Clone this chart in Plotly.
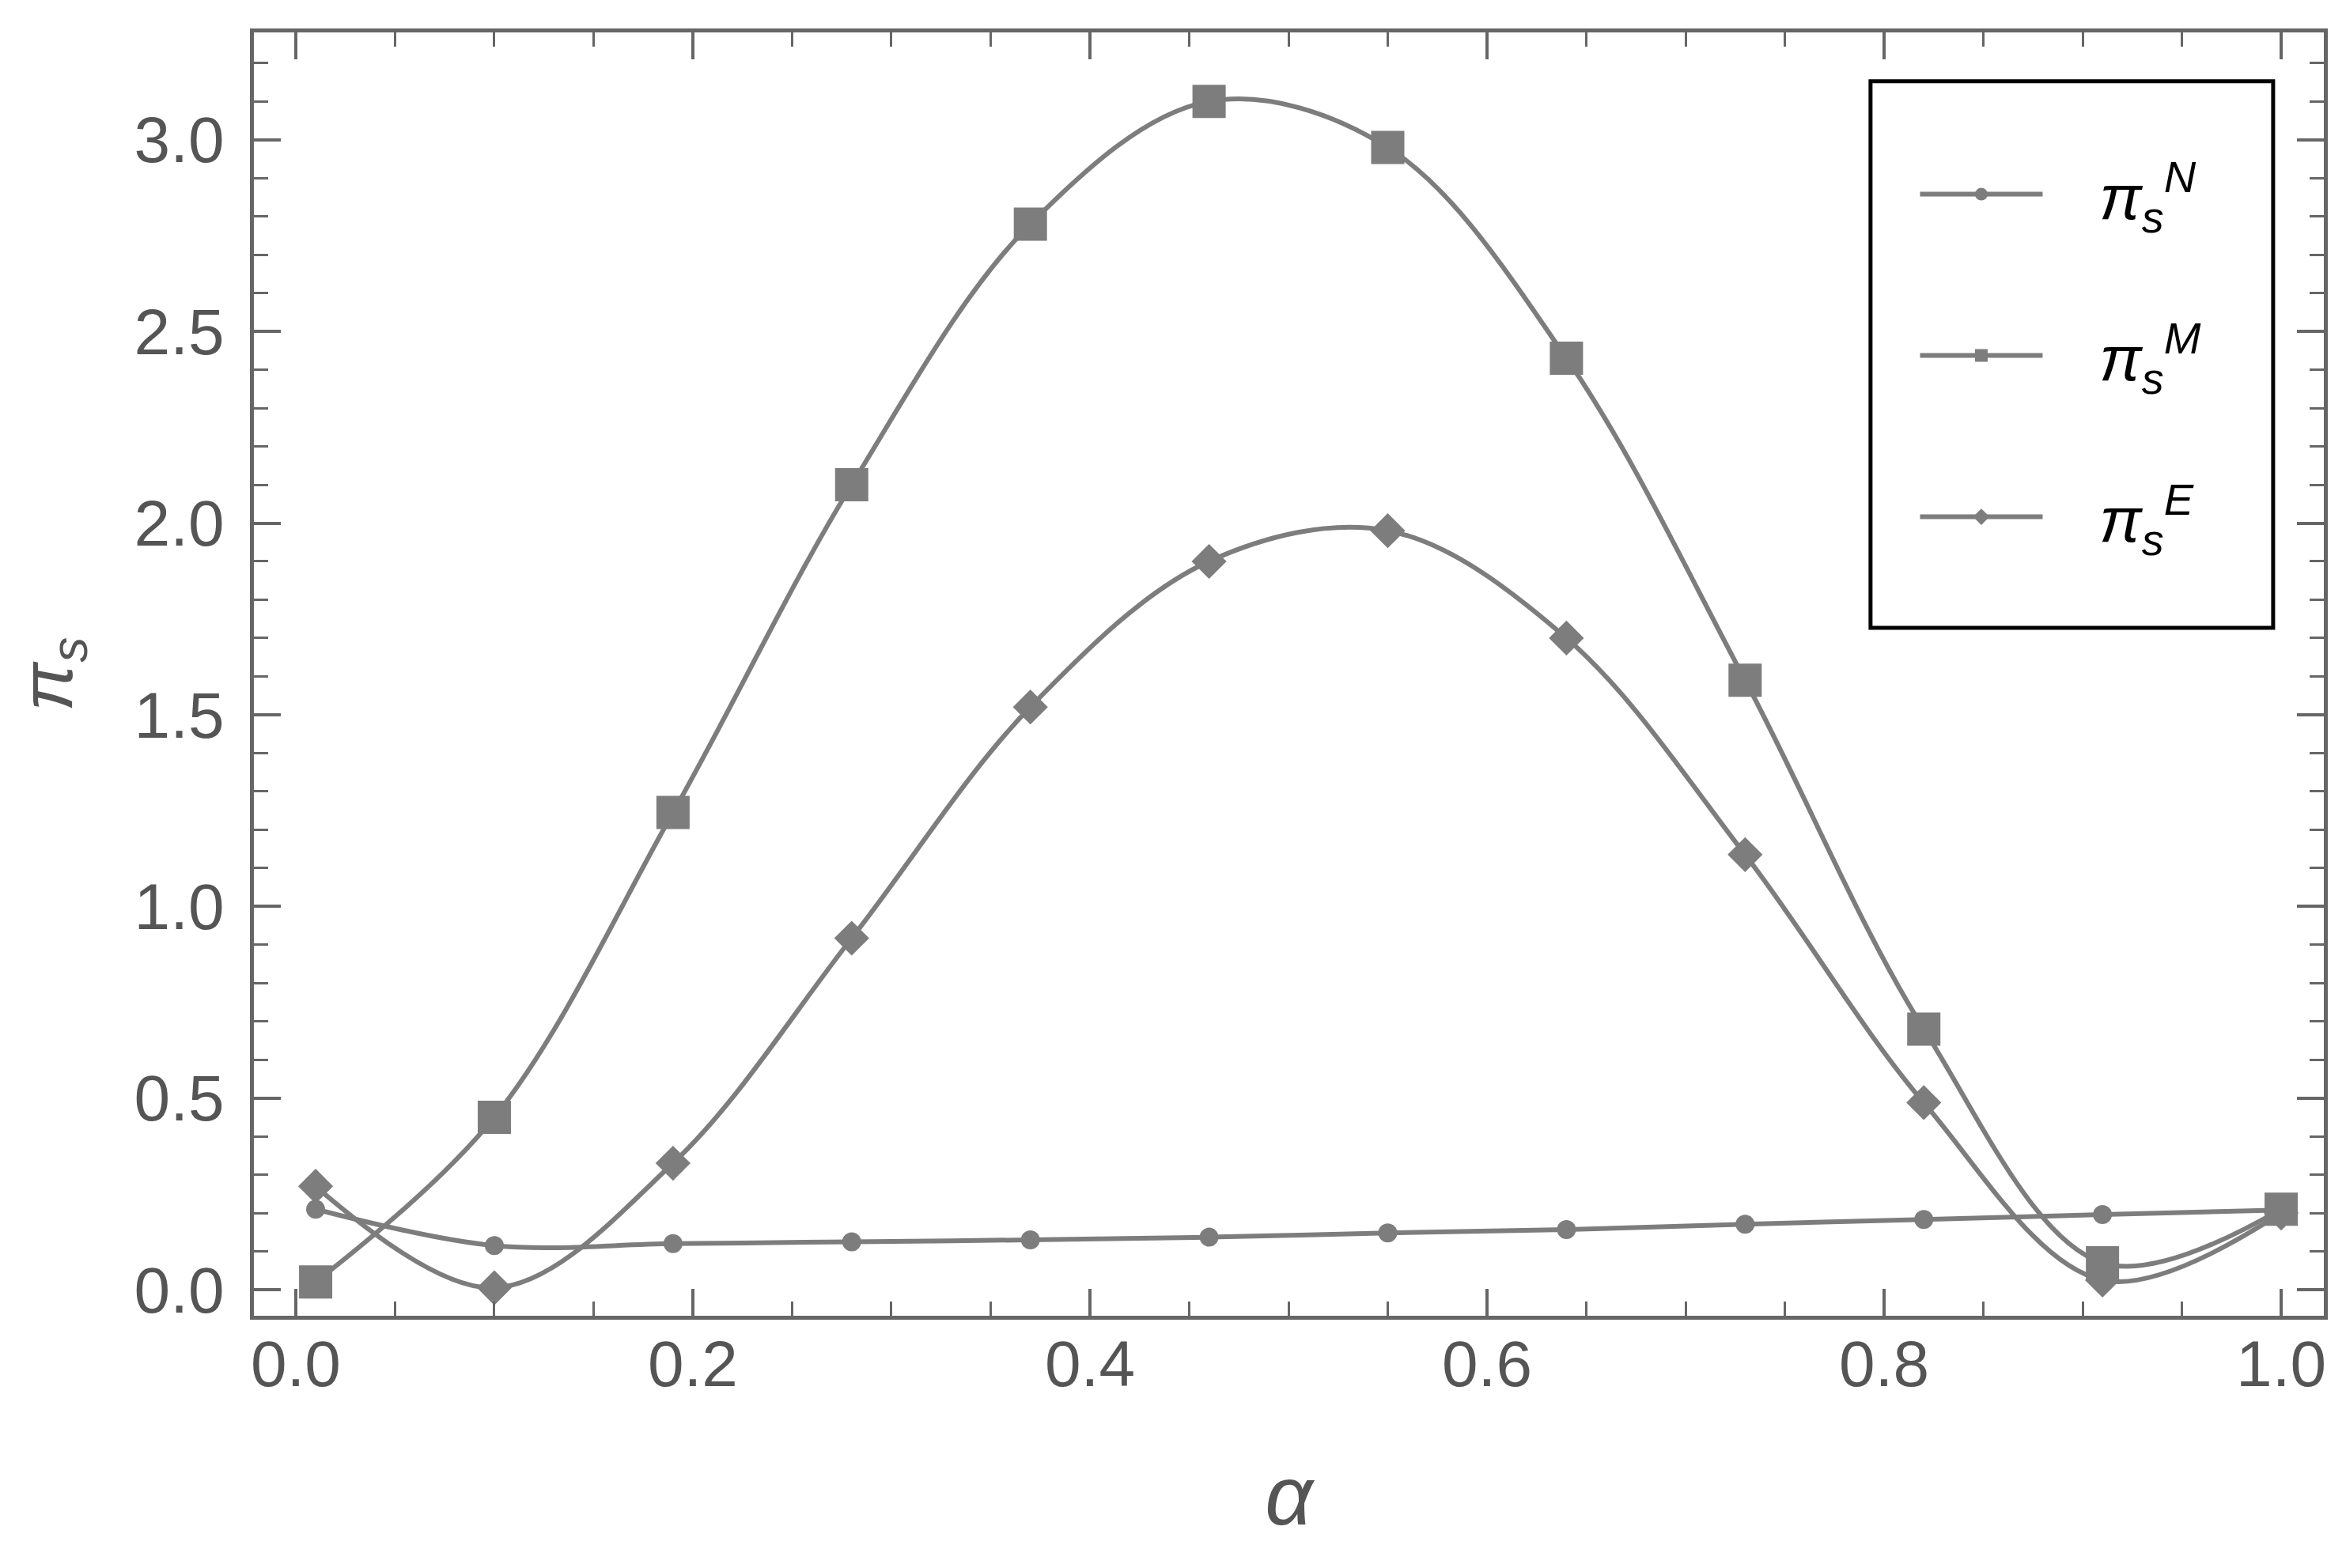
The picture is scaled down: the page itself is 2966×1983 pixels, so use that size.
import plotly.graph_objects as go

# alpha grid and profit values
alpha = [0.01, 0.10, 0.19, 0.28, 0.37, 0.46, 0.55, 0.64, 0.73, 0.82, 0.91, 1.00]
pi_s_N = [0.21, 0.115, 0.12, 0.125, 0.13, 0.137, 0.148, 0.157, 0.171, 0.183, 0.196, 0.208]
pi_s_M = [0.02, 0.45, 1.245, 2.10, 2.78, 3.10, 2.98, 2.43, 1.59, 0.68, 0.07, 0.21]
pi_s_E = [0.27, 0.005, 0.33, 0.917, 1.52, 1.90, 1.98, 1.70, 1.135, 0.488, 0.025, 0.20]

pad = '\u00a0' * 3
names = [
    pad + '<i>π</i><sub><i>s</i></sub><sup><i>N</i></sup>',
    pad + '<i>π</i><sub><i>s</i></sub><sup><i>M</i></sup>',
    pad + '<i>π</i><sub><i>s</i></sub><sup><i>E</i></sup>',
]
symbols = ['circle', 'square', 'diamond']
sizes = [24, 42, 34]

grey = '#7d7d7d'
axis_grey = '#666666'
font = 'Liberation Sans, Arial, sans-serif'

fig = go.Figure()
for i, ys in enumerate([pi_s_N, pi_s_M, pi_s_E]):
    fig.add_trace(go.Scatter(
        x=alpha, y=ys, name=names[i], mode='lines+markers',
        legendgroup=str(i),
        line={'color': grey, 'width': 6, 'shape': 'spline', 'smoothing': 1.0},
        marker={'symbol': symbols[i], 'size': sizes[i], 'color': grey},
    ))

axis_common = {
    'showline': True,
    'linewidth': 5,
    'linecolor': axis_grey,
    'mirror': 'ticks',
    'ticks': 'inside',
    'ticklen': 34,
    'tickwidth': 4,
    'tickcolor': axis_grey,
    'showgrid': False,
    'zeroline': False,
    'tickformat': '.1f',
    'tickfont': {'size': 82, 'color': '#555555', 'family': font},
}

# legend frame (Mathematica style box)
fig.add_shape(
    type='rect', xref='paper', yref='paper',
    x0=0.781, x1=0.9755, y0=0.536, y1=0.962,
    line={'color': 'black', 'width': 5},
    fillcolor='white', layer='above',
)

fig.update_layout(
    width=2966,
    height=1983,
    margin={'l': 313, 'r': 36, 't': 33, 'b': 327},
    plot_bgcolor='white',
    paper_bgcolor='white',
    xaxis={
        **axis_common,
        'range': [-0.0211, 1.0215],
        'tick0': 0, 'dtick': 0.2,
        'ticklabelstandoff': -14,
        'minor': {'dtick': 0.05, 'ticks': 'inside', 'ticklen': 18, 'tickwidth': 3,
                  'tickcolor': axis_grey, 'showgrid': False},
        'title': {'text': '<i>α</i>', 'font': {'size': 106, 'color': '#555555', 'family': font},
                  'standoff': 86},
    },
    yaxis={
        **axis_common,
        'range': [-0.068, 3.28],
        'tick0': 0, 'dtick': 0.5,
        'ticklabelstandoff': 16,
        'minor': {'dtick': 0.1, 'ticks': 'inside', 'ticklen': 18, 'tickwidth': 3,
                  'tickcolor': axis_grey, 'showgrid': False},
        'title': {'text': '<i>π</i><sub><i>s</i></sub>', 'font': {'size': 92, 'color': '#555555', 'family': font},
                  'standoff': 58},
    },
    legend={
        'x': 0.803, 'y': 0.91, 'xanchor': 'left', 'yanchor': 'top',
        'bgcolor': 'rgba(0,0,0,0)',
        'borderwidth': 0,
        'font': {'size': 80, 'color': 'black', 'family': font},
        'itemwidth': 155,
        'tracegroupgap': 97,
        'itemsizing': 'trace',
    },
    showlegend=True,
)

fig.write_html("out.html")
